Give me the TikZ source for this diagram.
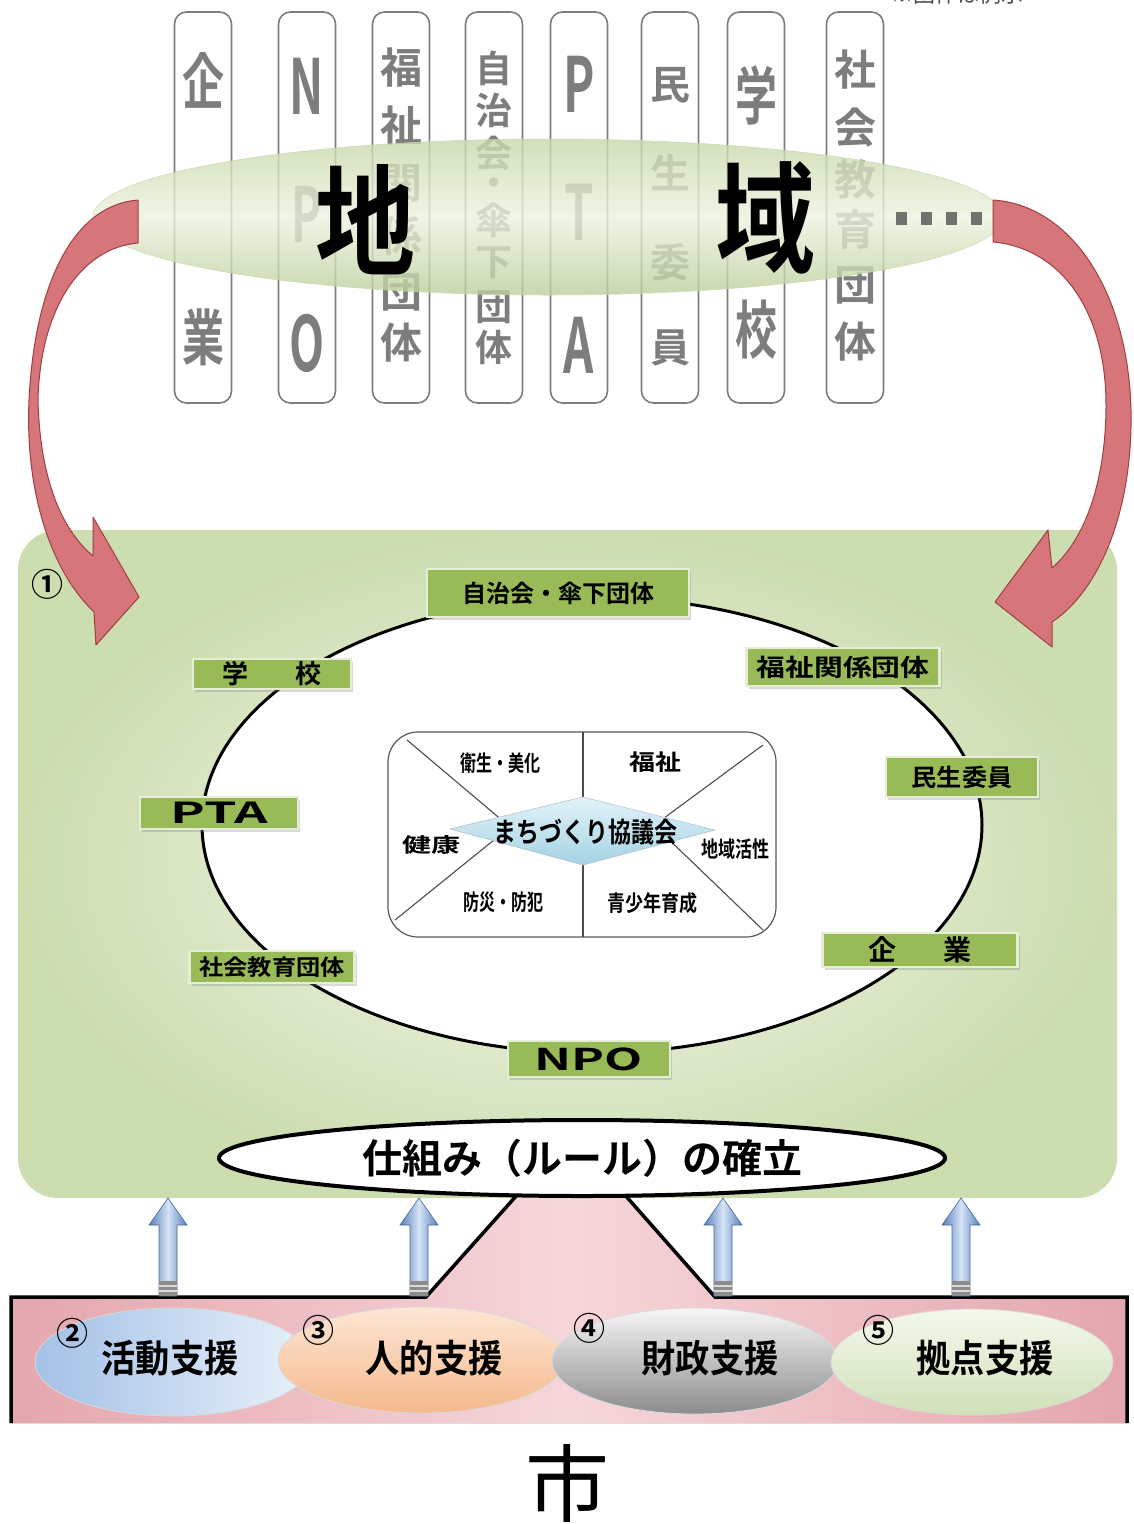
\documentclass[tikz,border=0pt]{standalone}
\usepackage{fontspec}
\usepackage{graphicx}
\setmainfont{Noto Sans CJK JP}[BoldFont={Noto Sans CJK JP Bold}]
\usetikzlibrary{shapes.geometric,shadows}
\definecolor{colgray}{RGB}{125,125,125}
\definecolor{colline}{RGB}{125,125,125}
\definecolor{bandtop}{RGB}{200,217,170}
\definecolor{bandmid}{RGB}{236,243,224}
\definecolor{bandbot}{RGB}{188,207,155}
\definecolor{redarrow}{RGB}{214,118,122}
\definecolor{redline}{RGB}{160,62,68}
\definecolor{frameout}{RGB}{204,221,176}
\definecolor{framein}{RGB}{245,249,238}
\definecolor{lblgreen}{RGB}{152,187,88}
\definecolor{diamtop}{RGB}{226,243,249}
\definecolor{diambot}{RGB}{165,210,228}
\definecolor{pinkedge}{RGB}{228,166,174}
\definecolor{pinkmid}{RGB}{246,214,217}
\definecolor{bluedark}{RGB}{88,128,190}
\definecolor{bluelight}{RGB}{214,228,246}
\definecolor{dotgray}{RGB}{110,115,110}
\definecolor{sbluea}{RGB}{163,192,230}
\definecolor{sblueb}{RGB}{233,241,250}
\definecolor{speacha}{RGB}{253,230,212}
\definecolor{speachb}{RGB}{245,185,140}
\definecolor{sgraya}{RGB}{246,246,246}
\definecolor{sgrayb}{RGB}{140,140,140}
\definecolor{sgreena}{RGB}{244,248,236}
\definecolor{sgreenb}{RGB}{208,225,184}
\newcommand{\myfs}[1]{\fontsize{#1pt}{#1pt}\selectfont}
\begin{document}
\begin{tikzpicture}[x=1pt,y=-1pt,
  colbox/.style={draw=colline, line width=1.6pt, rounded corners=12pt, fill=white,
    minimum width=57pt, minimum height=391pt, inner sep=0pt},
  coltxt/.style={text=colgray, inner sep=0pt, font=\bfseries},
  lbl/.style={fill=lblgreen, draw=white!75!lblgreen, line width=2.5pt, inner sep=0pt,
    font=\bfseries, drop shadow={shadow xshift=2pt, shadow yshift=-3pt, opacity=0.3}},
  celltxt/.style={font=\bfseries, inner sep=0pt},
  redarr/.style={fill=redarrow, draw=redline, line width=1pt, line join=round},
  bluearr/.style={left color=bluedark, right color=bluedark, middle color=bluelight,
    draw=bluedark!80!black, line width=0.6pt},
  supp/.style={ellipse, draw=black!15, line width=0.8pt, inner sep=0pt},
  supptxt/.style={font=\bfseries, inner sep=0pt},
  numtxt/.style={inner sep=0pt, font=\bfseries}
]
\useasboundingbox (0,0) rectangle (1133,1524);
\fill[white] (0,0) rectangle (1133,1524);

% note at top right (cut off)
\node[text=black!70, inner sep=0pt] (note) at (957,-6) {\myfs{22}※団体は例示};

% ---------- columns ----------
\node[colbox] (k1) at (203,207.5) {};
\node[colbox] (k2) at (307,207.5) {};
\node[colbox] (k3) at (401,207.5) {};
\node[colbox] (k4) at (494,207.5) {};
\node[colbox] (k5) at (579,207.5) {};
\node[colbox] (k6) at (670,207.5) {};
\node[colbox] (k7) at (756,207.5) {};
\node[colbox] (k8) at (855,207.5) {};

\node[coltxt] (k1a) at (203,80) {\scalebox{1}[1.45]{\myfs{42}企}};
\node[coltxt] (k1b) at (203,337) {\scalebox{1}[1.45]{\myfs{42}業}};
\node[coltxt] (k2a) at (307,86) {\scalebox{0.6}[1]{\myfs{76}N}};
\node[coltxt] (k2b) at (307,214) {\scalebox{0.6}[1]{\myfs{76}P}};
\node[coltxt] (k2c) at (307,343) {\scalebox{0.6}[1]{\myfs{76}O}};
\foreach \yy/\ch [count=\i] in {68/福,126/祉,183/関,236/係,292/団,343/体}
  \node[coltxt] (k3-\i) at (401,\yy) {\myfs{42}\ch};
\foreach \yy/\ch [count=\i] in {68/自,110/治,153/会,187/・,220/傘,263/下,307/団,347/体}
  \node[coltxt] (k4-\i) at (494,\yy) {\myfs{37}\ch};
\node[coltxt] (k5a) at (579,84) {\scalebox{0.62}[1]{\myfs{76}P}};
\node[coltxt] (k5b) at (579,212) {\scalebox{0.62}[1]{\myfs{76}T}};
\node[coltxt] (k5c) at (579,345) {\scalebox{0.62}[1]{\myfs{76}A}};
\foreach \yy/\ch [count=\i] in {85/民,173/生,262/委,348/員}
  \node[coltxt] (k6-\i) at (670,\yy) {\myfs{40}\ch};
\node[coltxt] (k7a) at (756,95) {\scalebox{1}[1.5]{\myfs{42}学}};
\node[coltxt] (k7b) at (756,330) {\scalebox{1}[1.5]{\myfs{42}校}};
\foreach \yy/\ch [count=\i] in {70/社,128/会,180/教,230/育,285/団,342/体}
  \node[coltxt] (k8-\i) at (855,\yy) {\myfs{42}\ch};

% ---------- region band ----------
\node[ellipse, minimum width=910pt, minimum height=156pt, inner sep=0pt,
  top color=bandtop, bottom color=bandbot, middle color=bandmid, fill opacity=0.8,
  draw=bandbot!80!white, line width=0.5pt] (band) at (548,217) {};
\node[inner sep=0pt] (chi) at (365,220) {\scalebox{1}[1.2]{\myfs{100}\bfseries 地}};
\node[inner sep=0pt] (iki) at (765,218) {\scalebox{1}[1.2]{\myfs{100}\bfseries 域}};
\foreach \dx in {0,1,2,3}
  \fill[dotgray] ({896+\dx*25},212) rectangle ++(11,13);

% ---------- big frame ----------
\node[rounded corners=40pt, minimum width=1099pt, minimum height=668pt, inner sep=0pt,
  inner color=framein, outer color=frameout] (frame) at (567.5,864) {};
\node[numtxt] (n1) at (47,584) {\myfs{32}①};

% ring ellipse
\node[ellipse, draw=black, line width=3pt, fill=white, minimum width=780pt,
  minimum height=456pt, inner sep=0pt] (ring) at (592,825) {};

% center box
\node[draw=black!65, line width=1.2pt, rounded corners=30pt, fill=white,
  minimum width=388pt, minimum height=205pt, inner sep=0pt] (cbox) at (582,834.5) {};
\draw[black!70, line width=1.1pt] (583,732) -- (583,937);
\draw[black!70, line width=1.1pt] (407,740) -- (510,827);
\draw[black!70, line width=1.1pt] (395,920) -- (510,827);
\draw[black!70, line width=1.1pt] (763,745) -- (660,821);
\draw[black!70, line width=1.1pt] (763,930) -- (660,831);
\path[top color=diamtop, bottom color=diambot, draw=diambot!70!black!60, line width=0.5pt]
  (450,829) -- (583,797) -- (715,830) -- (583,865) -- cycle;
\node[celltxt] (mc) at (585,832) {\scalebox{1}[1.2]{\myfs{23}まちづくり協議会}};
\node[celltxt] (c1) at (500,763) {\scalebox{0.8}[1.1]{\myfs{20}衛生・美化}};
\node[celltxt] (c2) at (655,762) {\scalebox{1.3}[1.1]{\myfs{20}福祉}};
\node[celltxt] (c3) at (431,845) {\scalebox{1.45}[1]{\myfs{20}健康}};
\node[celltxt] (c4) at (735,849) {\scalebox{0.85}[1.1]{\myfs{20}地域活性}};
\node[celltxt] (c5) at (503,902) {\scalebox{0.8}[1.1]{\myfs{20}防災・防犯}};
\node[celltxt] (c6) at (652,903) {\scalebox{0.9}[1.1]{\myfs{20}青少年育成}};

% green labels
\node[lbl, minimum width=262pt, minimum height=48pt] (j1) at (558,593) {\myfs{24}自治会・傘下団体};
\node[lbl, minimum width=158pt, minimum height=30pt] (j2) at (272,674) {\myfs{26}学\hskip47pt 校};
\node[lbl, minimum width=193pt, minimum height=38pt] (j3) at (843,667) {\scalebox{1.2}[1]{\myfs{24}福祉関係団体}};
\node[lbl, minimum width=152pt, minimum height=40pt] (j4) at (962,777) {\scalebox{1.05}[1]{\myfs{24}民生委員}};
\node[lbl, minimum width=158pt, minimum height=32pt] (j5) at (219,813) {\scalebox{1.8}[1]{\myfs{29}PTA}};
\node[lbl, minimum width=165pt, minimum height=32pt] (j6) at (272,967) {\scalebox{1.1}[1]{\myfs{22}社会教育団体}};
\node[lbl, minimum width=195pt, minimum height=34pt] (j7) at (920,950) {\myfs{28}企\hskip47pt 業};
\node[lbl, minimum width=162pt, minimum height=36pt] (j8) at (589,1059) {\scalebox{1.65}[1]{\myfs{30}NPO}};

% ---------- city base ----------
\fill[left color=pinkedge, right color=pinkedge, middle color=pinkmid]
  (11,1423) -- (11,1297) -- (426,1297) -- (517,1195) -- (625,1195) -- (715,1297)
  -- (1127,1297) -- (1127,1423) -- cycle;
\draw[line width=3.5pt, line join=miter]
  (11,1423) -- (11,1297) -- (426,1297) -- (517,1195) -- (625,1195) -- (715,1297)
  -- (1127,1297) -- (1127,1423);

% rule ellipse
\node[ellipse, draw=black, line width=4pt, fill=white, minimum width=726pt,
  minimum height=76pt, inner sep=0pt, font=\bfseries] (rule) at (582,1158)
  {\myfs{40}仕組み（ルール）の確立};

% blue arrows
\foreach \ax [count=\i] in {168,419,723,961}{
  \path[bluearr] ({\ax-9},1296) -- ({\ax-9},1225) -- ({\ax-19},1225) -- (\ax,1198)
    -- ({\ax+19},1225) -- ({\ax+9},1225) -- ({\ax+9},1296) -- cycle;
  \fill[black!45] ({\ax-9},1281) rectangle ({\ax+9},1296);
  \draw[white!85!black, line width=1.2pt] ({\ax-9},1286) -- ({\ax+9},1286);
  \draw[white!85!black, line width=1.2pt] ({\ax-9},1291) -- ({\ax+9},1291);
}

% support ellipses
\node[supp, minimum width=276pt, minimum height=108pt, left color=sbluea, right color=sblueb] (b2) at (173,1362) {};
\node[supp, minimum width=286pt, minimum height=106pt, top color=speacha, bottom color=speachb] (b3) at (421,1360) {};
\node[supp, minimum width=286pt, minimum height=106pt, top color=sgraya, bottom color=sgrayb] (b4) at (695,1361) {};
\node[supp, minimum width=282pt, minimum height=106pt, top color=sgreena, bottom color=sgreenb] (b5) at (972,1362) {};
\node[numtxt] (n2) at (72,1333) {\myfs{32}②};
\node[numtxt] (n3) at (318,1330) {\myfs{32}③};
\node[numtxt] (n4) at (589,1328) {\myfs{32}④};
\node[numtxt] (n5) at (878,1330) {\myfs{32}⑤};
\node[supptxt] (t2) at (170,1358) {\scalebox{0.9}[1]{\myfs{38}活動支援}};
\node[supptxt] (t3) at (434,1358) {\scalebox{0.9}[1]{\myfs{38}人的支援}};
\node[supptxt] (t4) at (710,1358) {\scalebox{0.9}[1]{\myfs{38}財政支援}};
\node[supptxt] (t5) at (985,1358) {\scalebox{0.9}[1]{\myfs{38}拠点支援}};

\node[inner sep=0pt] (shi) at (567,1483) {\myfs{84}市};

% ---------- red curved arrows ----------
\path[redarr] (138,200) .. controls (75,205) and (35,280) .. (29,400)
  .. controls (25,490) and (50,570) .. (94,612)
  -- (96,645) -- (139,597) -- (93,517) -- (93,556)
  .. controls (62,530) and (40,480) .. (38,400)
  .. controls (40,310) and (80,248) .. (138,243) -- cycle;
\path[redarr] (993,200) .. controls (1070,205) and (1128,290) .. (1131,410)
  .. controls (1133,510) and (1100,590) .. (1052,622)
  -- (1052,647) -- (995,602) -- (1048,530) -- (1052,568)
  .. controls (1090,535) and (1106,470) .. (1106,405)
  .. controls (1106,310) and (1060,248) .. (993,242) -- cycle;
\end{tikzpicture}
\end{document}
